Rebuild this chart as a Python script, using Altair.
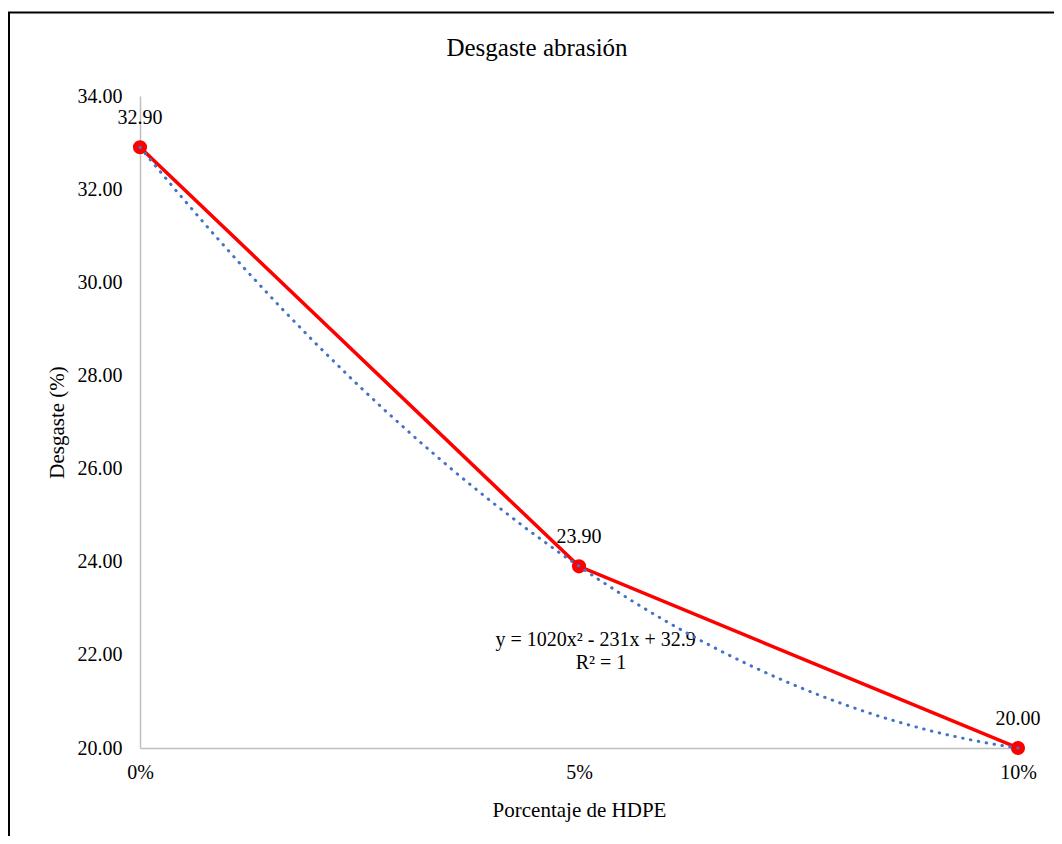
import altair as alt
import pandas as pd

# Data
porcentaje = [0.00, 0.05, 0.10]
desgaste = [32.90, 23.90, 20.00]
etiquetas = ["32.90", "23.90", "20.00"]
y_ticks = [20, 22, 24, 26, 28, 30, 32, 34]
x_ticks = [0.00, 0.05, 0.10]
titulo = "Desgaste abrasión"
ecuacion = "y = 1020x² - 231x + 32.9"
r2 = "R² = 1"

df = pd.DataFrame({"pct": porcentaje, "des": desgaste, "lab": etiquetas})
one = pd.DataFrame({"k": [0]})

FONT = "Liberation Serif"
W, H = 878, 652

x_enc = alt.X("pct:Q",
              scale=alt.Scale(domain=[0, 0.10], nice=False, zero=False),
              axis=alt.Axis(values=x_ticks, format=".0%", title="Porcentaje de HDPE",
                            grid=False, ticks=False, domainColor="#BFBFBF", domainWidth=1.5,
                            labelFont=FONT, labelFontSize=20, labelColor="black",
                            labelFlush=False, labelPadding=14,
                            titleFont=FONT, titleFontSize=21,
                            titleFontWeight="normal", titleColor="black", titlePadding=17))
y_enc = alt.Y("des:Q",
              scale=alt.Scale(domain=[20, 34], nice=False, zero=False),
              axis=alt.Axis(values=y_ticks, format=".2f", title="Desgaste (%)",
                            grid=False, ticks=False, domainColor="#BFBFBF", domainWidth=1.5,
                            labelFont=FONT, labelFontSize=20, labelColor="black",
                            labelFlush=False, labelPadding=18,
                            titleFont=FONT, titleFontSize=21,
                            titleFontWeight="normal", titleColor="black", titlePadding=10))

base = alt.Chart(df)
single = alt.Chart(one)

border = single.mark_rect(fill="transparent", stroke="black", strokeWidth=2).encode(
    x=alt.value(-131), x2=alt.value(W + 60),
    y=alt.value(-83.5), y2=alt.value(H + 120)
)

title = single.mark_text(font=FONT, fontSize=25, color="black", baseline="alphabetic",
                         align="center").encode(
    x=alt.value(397), y=alt.value(-40), text=alt.value(titulo))

line = base.mark_line(color="#FF0000", strokeWidth=3.5).encode(x=x_enc, y=y_enc)
points = base.mark_circle(color="#FF0000", size=200, opacity=1).encode(x=x_enc, y=y_enc)
labels = base.mark_text(font=FONT, fontSize=20, color="black", baseline="alphabetic",
                        dy=-23).encode(x=x_enc, y=y_enc, text="lab:N")

trend = base.transform_regression("pct", "des", method="poly", order=2,
                                  extent=[0, 0.10]).mark_line(
    color="#4472C4", strokeWidth=3, strokeDash=[0.5, 7.5], strokeCap="round"
).encode(x=x_enc, y=y_enc)

eq1 = single.mark_text(font=FONT, fontSize=20, color="black", baseline="middle").encode(
    x=alt.datum(0.0519), y=alt.datum(22.32), text=alt.value(ecuacion))
eq2 = single.mark_text(font=FONT, fontSize=20, color="black", baseline="middle").encode(
    x=alt.datum(0.0525), y=alt.datum(21.82), text=alt.value(r2))

chart = alt.layer(border, title, line, points, labels, eq1, eq2, trend).properties(
    width=W, height=H,
    autosize=alt.AutoSizeParams(type="none"),
    padding={"left": 132, "top": 88, "right": 36, "bottom": 88},
).configure(background="white").configure_view(strokeWidth=0)

chart.save("out.html", embed_options={"renderer": "svg", "actions": False})
